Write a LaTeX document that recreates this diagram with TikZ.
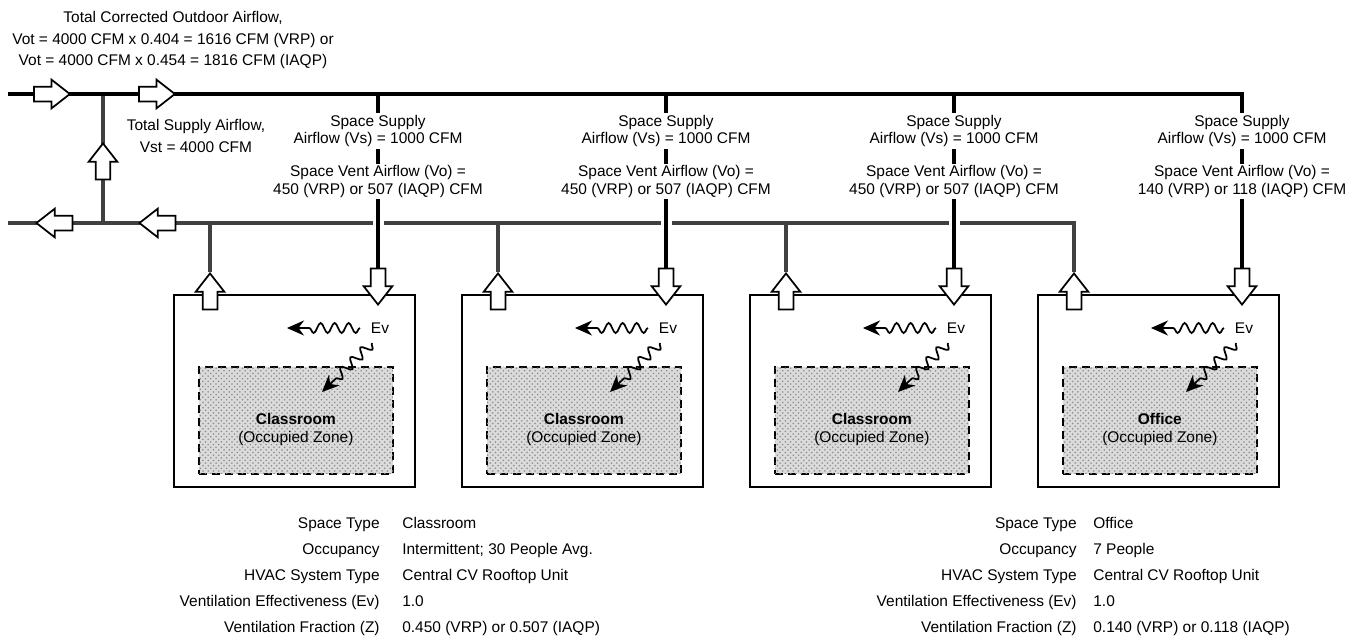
\documentclass[tikz,border=0pt]{standalone}
\usepackage{fontspec}
\setmainfont{Liberation Sans}
\usetikzlibrary{positioning,arrows.meta,shapes.arrows,decorations.pathmorphing,patterns}
\pgfdeclarelayer{bg}
\pgfsetlayers{bg,main}

\begin{document}
\begin{tikzpicture}[x=0.02cm, y=-0.02cm,
  font=\fontsize{8.8}{10.2}\selectfont,
  supply/.style={line width=0.07cm, black},
  return/.style={line width=0.065cm, black!75},
  duct arrow/.style={single arrow, draw, fill=white, line width=0.035cm, inner sep=0pt,
    inner ysep=0.13cm, minimum height=0.72cm, minimum width=0.54cm, single arrow head extend=0.14cm,
    single arrow tip angle=76},
  room/.style={draw, line width=0.035cm, inner sep=0pt},
  zone/.style={draw, dash pattern=on 0.16cm off 0.1cm, fill=black!14, line width=0.035cm, inner sep=0pt,
    postaction={pattern=crosshatch dots, pattern color=black!45}},
  wave/.style={decorate, decoration={snake, amplitude=0.1cm, segment length=0.28cm, post length=0.34cm},
    -{Stealth[length=0.34cm, width=0.3cm]}, line width=0.035cm},
  lbl/.style={fill=white, inner sep=1pt, align=center},
  cell/.style={inner sep=0pt, text height=0.22cm, text depth=0.05cm}]
\useasboundingbox (0,0) rectangle (1350,637);

% headings
\node[align=center, font=\fontsize{8.8}{12.5}\selectfont] (vot) at (173,40)
  {Total Corrected Outdoor Airflow,\\ Vot = 4000 CFM x 0.404 = 1616 CFM (VRP) or\\ Vot = 4000 CFM x 0.454 = 1816 CFM (IAQP)};
\node[align=center, font=\fontsize{8.8}{12.5}\selectfont] (vst) at (196,136) {Total Supply Airflow,\\ Vst = 4000 CFM};

% duct ends
\coordinate (oa) at (8,94);
\coordinate (ea) at (8,223);
\node[duct arrow, anchor=tail] (oa1) at (33,94) {};
\node[duct arrow, anchor=tail] (oa2) at (138,94) {};
\node[duct arrow, rotate=180, anchor=tip] (ea1) at (35,223) {};
\node[duct arrow, rotate=180, anchor=tip] (ea2) at (138,223) {};
\node[duct arrow, rotate=90, anchor=tip] (ma) at (103,142) {};

% rooms
\foreach \i/\zname/\vent in {1/Classroom/{450 (VRP) or 507 (IAQP)}, 2/Classroom/{450 (VRP) or 507 (IAQP)},
    3/Classroom/{450 (VRP) or 507 (IAQP)}, 4/Office/{140 (VRP) or 118 (IAQP)}} {
  \pgfmathsetmacro{\rx}{173+288*(\i-1)}
  \node[room, anchor=north west, minimum width=4.82cm, minimum height=3.84cm] (r\i) at (\rx,294) {};
  \node[zone, anchor=north west, minimum width=3.88cm, minimum height=2.14cm] (z\i) at (\rx+25,366) {};
  \node[align=center, inner sep=0pt] (zt\i) at ([yshift=-0.18cm]z\i.center) {\textbf{\zname}\\ (Occupied Zone)};
  \node[duct arrow, rotate=-90, anchor=tip] (sa\i) at (\rx+205,306) {};
  \node[duct arrow, rotate=90, anchor=tip] (ra\i) at (\rx+37,272) {};
  \node[lbl] (vs\i) at (\rx+205,131) {Space Supply\\ Airflow (Vs) = 1000 CFM};
  \node[lbl] (vo\i) at (\rx+205,181.5) {Space Vent Airflow (Vo) =\\ \vent\ CFM};
  \node[inner sep=1pt] (ev\i) at (\rx+207,328) {Ev};
  \coordinate (hw\i) at (\rx+187,328);
  \coordinate (hd\i) at (\rx+114,328);
  \coordinate (dw\i) at (\rx+199,343);
  \coordinate (dd\i) at (\rx+149,392);
  \draw[wave] (hw\i) -- (hd\i);
  \draw[wave] (dw\i) -- (dd\i);
}

% duct lines
\begin{pgfonlayer}{bg}
\draw[return] (ea) -| (ra4.tip);
\foreach \i in {1,2,3} \draw[return] (ra\i.tip) -- (ra\i.tip |- ea);
\draw[return] (ma.tail |- oa) -- (ma.tail |- ea);
\foreach \i in {1,2,3} \draw[supply, preaction={draw=white, line width=0.22cm}] (sa\i.tail) -- (sa\i.tail |- oa);
\draw[supply] (oa) -| (sa4.tail);
\end{pgfonlayer}

% space data
\foreach \k/\lab/\va/\vb in {0/{Space Type}/{Classroom}/{Office},
    1/{Occupancy}/{Intermittent; 30 People Avg.}/{7 People},
    2/{HVAC System Type}/{Central CV Rooftop Unit}/{Central CV Rooftop Unit},
    3/{Ventilation Effectiveness (Ev)}/{1.0}/{1.0},
    4/{Ventilation Fraction (Z)}/{0.450 (VRP) or 0.507 (IAQP)}/{0.140 (VRP) or 0.118 (IAQP)}} {
  \node[cell, anchor=east] (la\k) at (380,524+26*\k) {\lab};
  \node[cell, anchor=west] (va\k) at (402,524+26*\k) {\va};
  \node[cell, anchor=east] (lb\k) at (1077,524+26*\k) {\lab};
  \node[cell, anchor=west] (vb\k) at (1093,524+26*\k) {\vb};
}
\end{tikzpicture}
\end{document}
